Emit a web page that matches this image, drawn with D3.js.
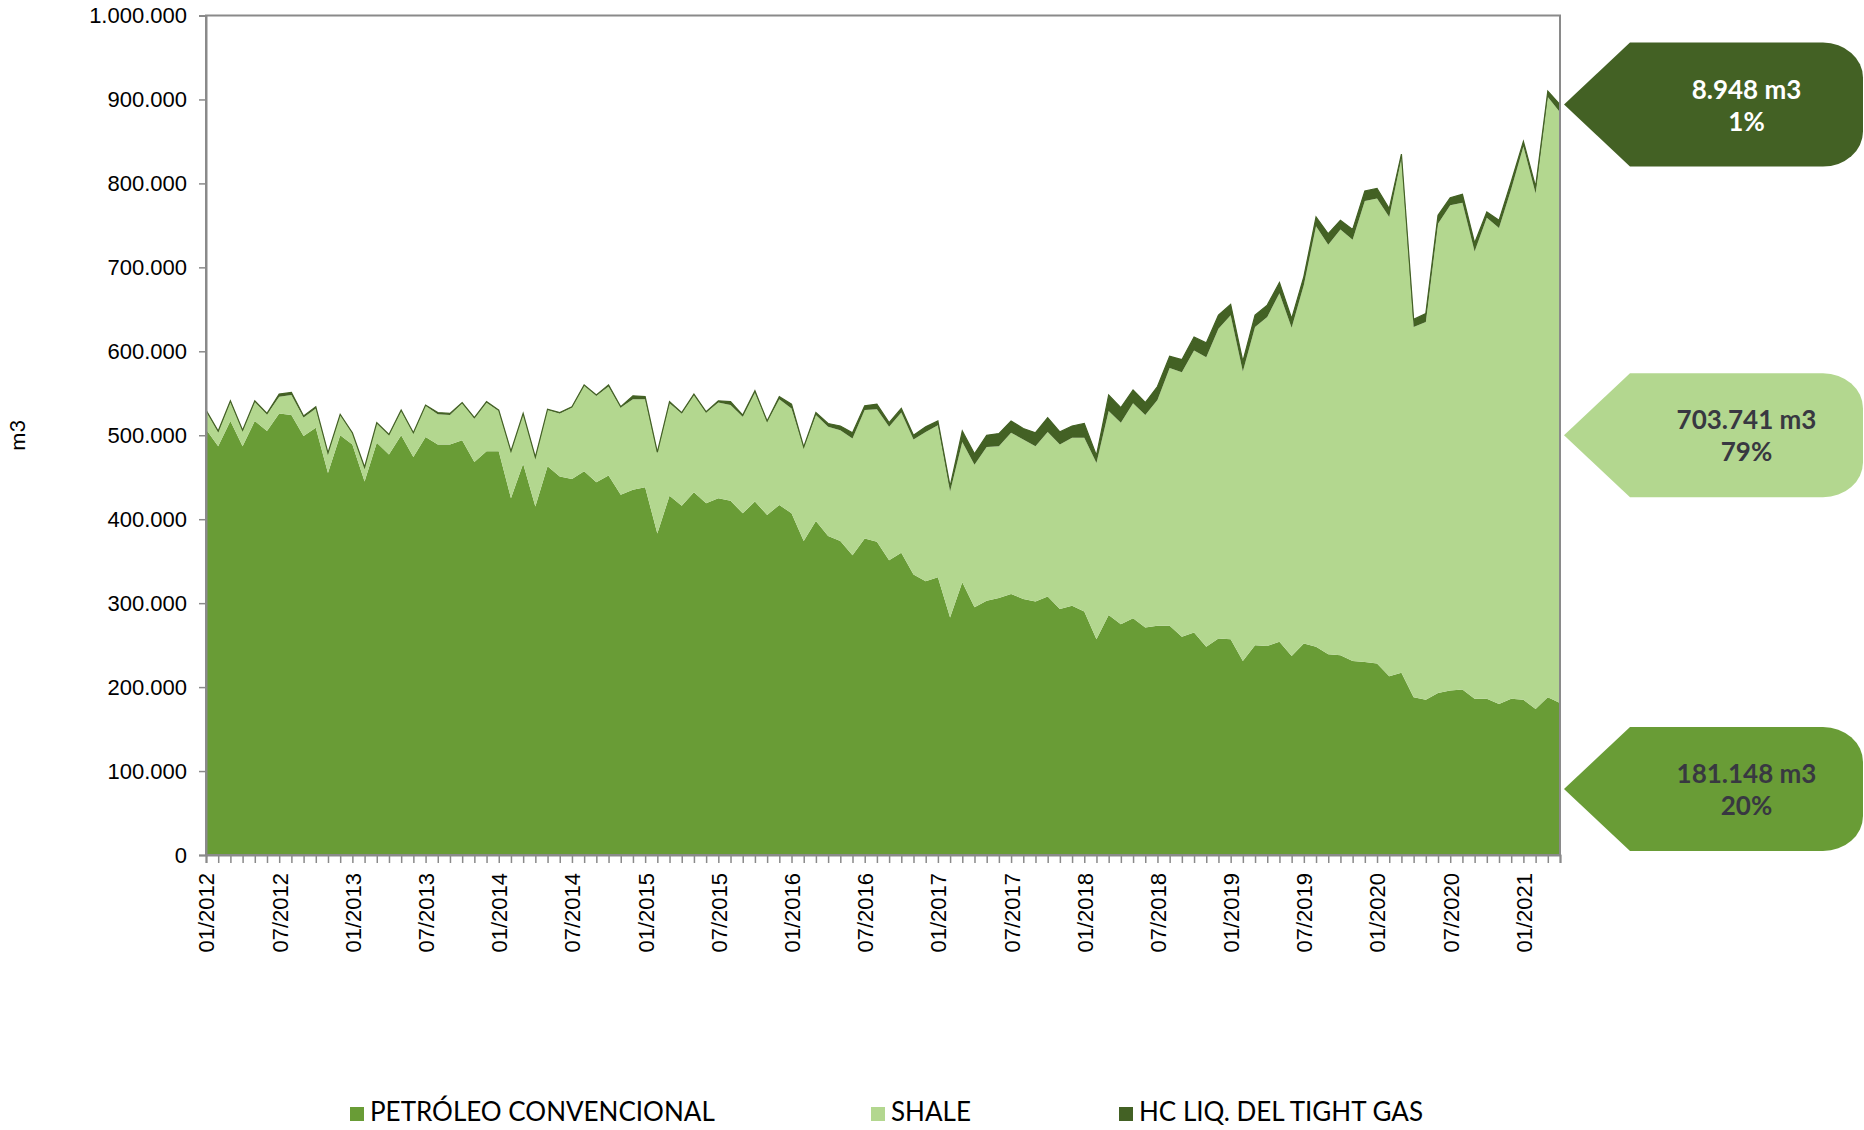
<!DOCTYPE html>
<html>
<head>
<meta charset="utf-8">
<script src="https://cdn.jsdelivr.net/npm/d3@7"></script>
<style>
  body { margin: 0; background: #fff; }
  svg { display: block; font-family: Lato, "Open Sans", sans-serif; }
</style>
</head>
<body>
<svg id="chart" width="1864" height="1130"></svg>
<script>
// meses 01/2012 .. 04/2021
const months = [];
for (let yr = 2012; yr <= 2021; yr++) {
  for (let m = 1; m <= 12; m++) {
    if (yr === 2021 && m > 4) break;
    months.push(String(m).padStart(2, "0") + "/" + yr);
  }
}
const xLabels = months.filter(d => d.startsWith("01/") || d.startsWith("07/"));

// valores en miles de m3
const convencional = [
  507,487,517,487,517,505,526,524,499,509,
  455,500,489,445,491,477,500,474,498,489,
  489,494,468,481,481,425,466,415,463,451,
  448,457,444,452,429,435,438,383,428,416,
  432,419,425,422,407,421,405,417,407,374,
  398,380,374,357,377,373,351,360,334,326,
  331,283,325,295,303,306,311,305,302,308,
  293,297,290,257,286,275,282,271,273,273,
  260,265,248,258,257,231,250,249,254,237,
  252,248,239,238,231,230,228,213,217,188,
  185,193,196,197,186,186,180,186,185,174,
  188,181.148
];
const shale = [
  22,17,23,18,23,20,20,24,22,23,
  23,24,13,16,23,23,29,28,37,36,
  35,44,52,58,48,55,59,58,67,75,
  85,102,103,106,104,108,105,96,110,110,
  116,108,114,114,115,130,111,126,125,111,
  126,130,132,139,153,158,159,167,161,178,
  181,150,167,170,183,181,192,190,185,196,
  196,200,207,210,243,240,256,253,269,307,
  315,336,345,369,386,345,379,392,415,391,
  427,501,488,507,502,549,554,547,613,441,
  450,559,578,580,533,573,567,607,659,614,
  715,703.741
];
const tightGas = [
  1,1,1,1,1,1,3,3,2,2,
  1,1,1,1,1,1,1,1,1,2,
  2,1,1,1,1,1,1,1,1,1,
  1,1,1,2,1,4,3,1,2,1,
  1,1,2,4,2,2,1,3,5,1,
  3,4,5,7,5,6,5,5,5,6,
  5,6,13,13,14,15,14,13,16,17,
  15,14,17,9,19,18,16,15,16,14,
  15,16,17,16,13,12,14,14,13,11,
  10,11,13,11,12,12,12,10,5,9,
  10,10,9,10,10,7,9,9,6,8,
  7,8.948
];

const yTicks = [0,100,200,300,400,500,600,700,800,900,1000];
const yTickLabels = ["0","100.000","200.000","300.000","400.000","500.000",
                     "600.000","700.000","800.000","900.000","1.000.000"];

const seriesNames = ["PETRÓLEO CONVENCIONAL", "SHALE", "HC LIQ. DEL TIGHT GAS"];
const colors = ["#699c36", "#b3d78f", "#436124"];

const calloutLines1 = ["181.148 m3", "703.741 m3", "8.948 m3"];
const calloutLines2 = ["20%", "79%", "1%"];
const calloutAnchor = [78.6, 500, 893.837];
const calloutText = ["#383841", "#383841", "#ffffff"];

const svg = d3.select("#chart");
const plotLeft = 206, plotRight = 1560, plotTop = 15.5, plotBottom = 855;

const x = d3.scalePoint().domain(months).range([plotLeft, plotRight]);
const y = d3.scaleLinear().domain([0, 1000]).range([plotBottom, plotTop]);

const rows = months.map((mes, i) => ({
  mes: mes, conv: convencional[i], shale: shale[i], tight: tightGas[i]
}));
const stacked = d3.stack().keys(["conv", "shale", "tight"])(rows);

const area = d3.area()
    .x(d => x(d.data.mes))
    .y0(d => y(d[0]))
    .y1(d => y(d[1]));

svg.append("g").selectAll("path")
  .data(stacked)
  .enter().append("path")
    .attr("d", area)
    .attr("fill", (d, i) => colors[i]);

// borde superior de la pila
svg.append("path")
  .datum(stacked[2])
  .attr("d", d3.line().x(d => x(d.data.mes)).y(d => y(d[1])))
  .attr("fill", "none")
  .attr("stroke", colors[2])
  .attr("stroke-width", 1.2);

// ejes
const gx = svg.append("g")
  .attr("transform", `translate(0,${plotBottom})`)
  .call(d3.axisBottom(x).tickSize(8).tickPadding(0)
    .tickFormat(d => xLabels.includes(d) ? d : ""));
gx.selectAll("text")
  .attr("transform", "rotate(-90)")
  .attr("x", -18)
  .attr("y", 0)
  .attr("dy", "0.36em")
  .style("text-anchor", "end")
  .style("font-size", "22px")
  .style("fill", "#000");

const gy = svg.append("g")
  .attr("transform", `translate(${plotLeft},0)`)
  .call(d3.axisLeft(y).tickValues(yTicks).tickSize(7).tickPadding(12)
    .tickFormat((d, i) => yTickLabels[i]));
gy.selectAll("text").style("font-size", "22px").style("fill", "#000");

svg.selectAll(".domain").attr("stroke", "#8a8a8a").attr("stroke-width", 2);
svg.selectAll(".tick line").attr("stroke", "#8a8a8a").attr("stroke-width", 1.5);

svg.append("rect")
  .attr("x", plotLeft).attr("y", plotTop)
  .attr("width", plotRight - plotLeft).attr("height", plotBottom - plotTop)
  .attr("fill", "none")
  .attr("stroke", "#8a8a8a")
  .attr("stroke-width", 2);

svg.append("text")
  .attr("transform", `translate(17,${y(500)}) rotate(-90)`)
  .attr("text-anchor", "middle")
  .attr("dy", "0.35em")
  .style("font-size", "22px")
  .text("m3");

// etiquetas de la derecha
const tipX = 1564, boxL = 1630, boxR = 1863, hh = 62, rx = 40, ry = 35;
const co = svg.append("g").selectAll("g")
  .data(calloutAnchor)
  .enter().append("g");
co.append("path")
  .attr("d", d => {
    const cy = y(d);
    return `M${tipX},${cy} L${boxL},${cy - hh} L${boxR - rx},${cy - hh}` +
      ` A${rx},${ry} 0 0 1 ${boxR},${cy - hh + ry} L${boxR},${cy + hh - ry}` +
      ` A${rx},${ry} 0 0 1 ${boxR - rx},${cy + hh} L${boxL},${cy + hh} Z`;
  })
  .attr("fill", (d, i) => colors[i]);
co.append("text")
  .attr("x", (boxL + boxR) / 2)
  .attr("y", d => y(d) - 16)
  .attr("dominant-baseline", "central")
  .attr("text-anchor", "middle")
  .style("font-size", "26px").style("font-weight", "bold")
  .style("fill", (d, i) => calloutText[i])
  .text((d, i) => calloutLines1[i]);
co.append("text")
  .attr("x", (boxL + boxR) / 2)
  .attr("y", d => y(d) + 16)
  .attr("dominant-baseline", "central")
  .attr("text-anchor", "middle")
  .style("font-size", "26px").style("font-weight", "bold")
  .style("fill", (d, i) => calloutText[i])
  .text((d, i) => calloutLines2[i]);

// leyenda
const legendX = [350, 871, 1119];
const lg = svg.append("g").selectAll("g")
  .data(seriesNames)
  .enter().append("g")
  .attr("transform", (d, i) => `translate(${legendX[i]},1121)`);
lg.append("rect")
  .attr("x", 0).attr("y", -14)
  .attr("width", 14).attr("height", 14)
  .attr("fill", (d, i) => colors[i]);
lg.append("text")
  .attr("x", 20).attr("y", 0)
  .style("font-size", "26px")
  .text(d => d);
</script>
</body>
</html>
